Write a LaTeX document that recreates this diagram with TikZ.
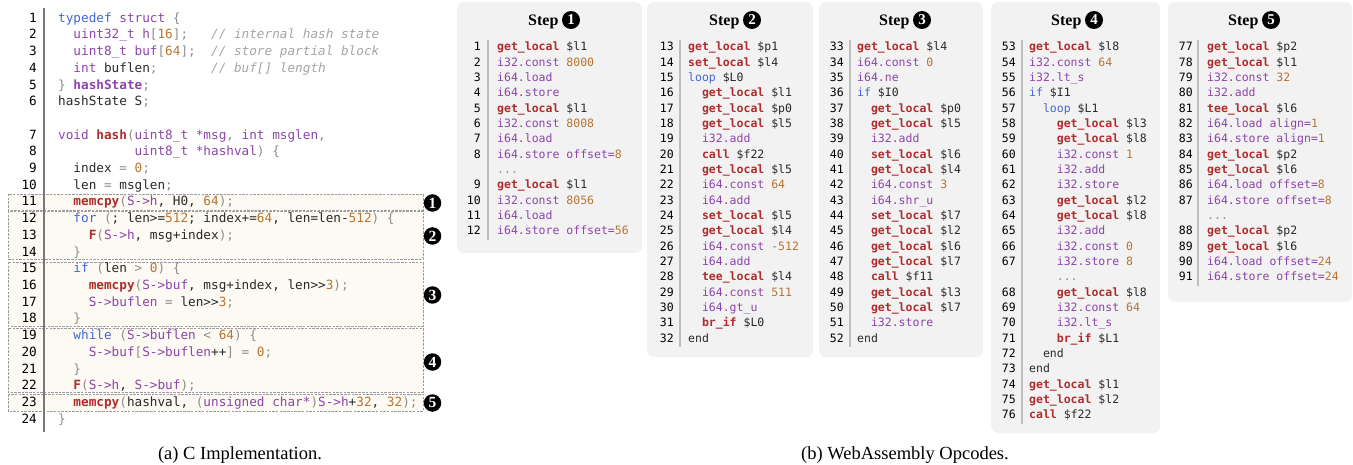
\documentclass[tikz,border=0pt]{standalone}
\usepackage{fontspec}
\setmainfont{Liberation Serif}
\newfontfamily\monofont{DejaVu Sans Mono}

% colours of the listings
\definecolor{cred}{RGB}{176,44,44}
\definecolor{cpur}{RGB}{140,68,170}
\definecolor{cblue}{RGB}{66,104,210}
\definecolor{cnum}{RGB}{184,116,50}
\definecolor{cgray}{RGB}{140,140,140}
\definecolor{ccom}{RGB}{165,165,165}
\definecolor{ctext}{RGB}{40,40,40}
\definecolor{cpanel}{RGB}{242,242,242}
\definecolor{cbox}{RGB}{252,250,243}
\definecolor{cboxline}{RGB}{155,155,155}
\definecolor{cbar}{RGB}{120,120,120}
\definecolor{cwbar}{RGB}{190,190,190}

% fonts
\newcommand\cfont{\monofont\fontsize{12.7}{14}\selectfont\frenchspacing}
\newcommand\wfont{\monofont\fontsize{11.5}{13}\selectfont\frenchspacing}

% syntax highlighting
\newcommand\kr[1]{\textcolor{cred}{\bfseries#1}}
\newcommand\kP[1]{\textcolor{cpur}{\bfseries#1}}
\newcommand\kp[1]{\textcolor{cpur}{#1}}
\newcommand\kb[1]{\textcolor{cblue}{#1}}
\newcommand\kn[1]{\textcolor{cnum}{#1}}
\newcommand\kg[1]{\textcolor{cgray}{#1}}
\newcommand\kc[1]{\textcolor{ccom}{\itshape#1}}
% skip a number of character cells
\newcommand\sk[1]{\hspace*{#1\fontcharwd\font`0}}

% C listing line: row, line number, code
\newcommand\Cl[3]{%
  \node[cnum] (cn#2) at (37,{18+#1*16.7+4.3}) {#2};
  \node[ctxt] (cl#2) at (58,{18+#1*16.7+4.3}) {#3};}
% wasm listing line: row, line number, code (columns in \nx, \cx)
\newcommand\Wl[3]{%
  \node[wnum] (wn#2) at (\nx,{47+#1*15.33+4}) {#2};
  \node[wtxt] (wl#2) at (\cx,{47+#1*15.33+4}) {#3};}
% elided lines: name, row, indent
\newcommand\Wd[3]{%
  \node[wtxt, text=cgray] (#1) at (\cx,{47+#2*15.33+4}) {\sk{#3}...};}

\begin{document}
\begin{tikzpicture}[x=1pt, y=-1pt,
  cnum/.style={anchor=base east, inner sep=0, font=\cfont, text=black},
  ctxt/.style={anchor=base west, inner sep=0, font=\cfont, text=ctext},
  wnum/.style={anchor=base east, inner sep=0, font=\wfont, text=black},
  wtxt/.style={anchor=base west, inner sep=0, font=\wfont, text=ctext},
  stepbox/.style={draw=cboxline, fill=cbox, line width=0.6pt, dash pattern=on 2.5pt off 1.2pt},
  panel/.style={fill=cpanel, rounded corners=7pt},
  wbar/.style={draw=cwbar, line width=1.3pt},
  steptitle/.style={anchor=base west, inner sep=0, font=\fontsize{16}{18}\selectfont\bfseries},
  stepnum/.style={circle, fill=black, text=white, inner sep=0, minimum size=18pt,
    font=\fontsize{15}{15}\selectfont\bfseries},
  marknum/.style={circle, fill=black, text=white, inner sep=0, minimum size=17.5pt,
    font=\fontsize{15.5}{15}\selectfont\bfseries},
  caption/.style={inner sep=0, font=\fontsize{18.5}{20}\selectfont}]
\useasboundingbox (0,0) rectangle (1353,465);

% ---------------- C implementation ----------------
\path[stepbox] (8,194) rectangle (423,210);
\path[stepbox] (8,211) rectangle (423,259);
\path[stepbox] (8,262) rectangle (423,326);
\path[stepbox] (8,328) rectangle (423,392);
\path[stepbox] (8,394) rectangle (423,411);
\draw[cbar, line width=2.5pt] (44,8) -- (44,432);

\Cl{0}{1}{\kb{typedef} \kp{struct} \kg{\{}}
\Cl{1}{2}{\sk{2}\kp{uint32\_t h}\kg{[}\kn{16}\kg{];}\sk{3}\kc{// internal hash state}}
\Cl{2}{3}{\sk{2}\kp{uint8\_t buf}\kg{[}\kn{64}\kg{];}\sk{2}\kc{// store partial block}}
\Cl{3}{4}{\sk{2}\kp{int} buflen\kg{;}\sk{7}\kc{// buf[] length}}
\Cl{4}{5}{\kg{\}} \kP{hashState}\kg{;}}
\Cl{5}{6}{hashState S\kg{;}}
\Cl{7}{7}{\kp{void} \kr{hash}\kg{(}\kp{uint8\_t *msg}\kg{,} \kp{int msglen}\kg{,}}
\Cl{8}{8}{\sk{10}\kp{uint8\_t *hashval}\kg{) \{}}
\Cl{9}{9}{\sk{2}index \kg{=} \kn{0}\kg{;}}
\Cl{10}{10}{\sk{2}len \kg{=} msglen\kg{;}}
\Cl{11}{11}{\sk{2}\kr{memcpy}\kg{(}\kp{S->h}, H0, \kn{64}\kg{);}}
\Cl{12}{12}{\sk{2}\kb{for} \kg{(}; len>=\kn{512}; index+=\kn{64}, len=len-\kn{512}\kg{) \{}}
\Cl{13}{13}{\sk{4}\kr{F}\kg{(}\kp{S->h}, msg+index\kg{);}}
\Cl{14}{14}{\sk{2}\kg{\}}}
\Cl{15}{15}{\sk{2}\kb{if} \kg{(}len \kg{>} \kn{0}\kg{) \{}}
\Cl{16}{16}{\sk{4}\kr{memcpy}\kg{(}\kp{S->buf}, msg+index, len>>\kn{3}\kg{);}}
\Cl{17}{17}{\sk{4}\kp{S->buflen} \kg{=} len>>\kn{3}\kg{;}}
\Cl{18}{18}{\sk{2}\kg{\}}}
\Cl{19}{19}{\sk{2}\kb{while} \kg{(}\kp{S->buflen} \kg{<} \kn{64}\kg{) \{}}
\Cl{20}{20}{\sk{4}\kp{S->buf}\kg{[}\kp{S->buflen}++\kg{]} \kg{=} \kn{0}\kg{;}}
\Cl{21}{21}{\sk{2}\kg{\}}}
\Cl{22}{22}{\sk{2}\kr{F}\kg{(}\kp{S->h}, \kp{S->buf}\kg{);}}
\Cl{23}{23}{\sk{2}\kr{memcpy}\kg{(}hashval, \kg{(}\kp{unsigned char*}\kg{)}\kp{S->h}+\kn{32}, \kn{32}\kg{);}}
\Cl{24}{24}{\kg{\}}}

\node[marknum] (m1) at (432.5,203) {1};
\node[marknum] (m2) at (432.5,236) {2};
\node[marknum] (m3) at (432.5,295) {3};
\node[marknum] (m4) at (432.5,362) {4};
\node[marknum] (m5) at (432.5,403) {5};

\node[caption] (capA) at (240,455) {(a) C Implementation.};

% ---------------- WebAssembly opcodes ----------------
\fill[panel] (457,2) rectangle (642,253);
\fill[panel] (647,2) rectangle (813,357);
\fill[panel] (819,2) rectangle (983,357);
\fill[panel] (991,2) rectangle (1160,433);
\fill[panel] (1168,2) rectangle (1352,302);

\node[steptitle] (t1) at (528,25.5) {Step};  \node[stepnum] (s1) at (571,20) {1};
\node[steptitle] (t2) at (709,25.5) {Step};  \node[stepnum] (s2) at (752,20) {2};
\node[steptitle] (t3) at (879,25.5) {Step};  \node[stepnum] (s3) at (922,20) {3};
\node[steptitle] (t4) at (1051,25.5) {Step}; \node[stepnum] (s4) at (1094,20) {4};
\node[steptitle] (t5) at (1228,25.5) {Step}; \node[stepnum] (s5) at (1271,20) {5};

% step 1
\draw[wbar] (488,40) -- (488,240);
\def\nx{481}\def\cx{497}
\Wl{0}{1}{\kr{get\_local} \$l1}
\Wl{1}{2}{\kp{i32.const} \kn{8000}}
\Wl{2}{3}{\kp{i64.load}}
\Wl{3}{4}{\kp{i64.store}}
\Wl{4}{5}{\kr{get\_local} \$l1}
\Wl{5}{6}{\kp{i32.const} \kn{8008}}
\Wl{6}{7}{\kp{i64.load}}
\Wl{7}{8}{\kp{i64.store offset=}\kn{8}}
\Wd{wd1}{8}{0}
\Wl{9}{9}{\kr{get\_local} \$l1}
\Wl{10}{10}{\kp{i32.const} \kn{8056}}
\Wl{11}{11}{\kp{i64.load}}
\Wl{12}{12}{\kp{i64.store offset=}\kn{56}}

% step 2
\draw[wbar] (680,40) -- (680,347);
\def\nx{674}\def\cx{688}
\Wl{0}{13}{\kr{get\_local} \$p1}
\Wl{1}{14}{\kr{set\_local} \$l4}
\Wl{2}{15}{\kb{loop} \$L0}
\Wl{3}{16}{\sk{2}\kr{get\_local} \$l1}
\Wl{4}{17}{\sk{2}\kr{get\_local} \$p0}
\Wl{5}{18}{\sk{2}\kr{get\_local} \$l5}
\Wl{6}{19}{\sk{2}\kp{i32.add}}
\Wl{7}{20}{\sk{2}\kr{call} \$f22}
\Wl{8}{21}{\sk{2}\kr{get\_local} \$l5}
\Wl{9}{22}{\sk{2}\kp{i64.const} \kn{64}}
\Wl{10}{23}{\sk{2}\kp{i64.add}}
\Wl{11}{24}{\sk{2}\kr{set\_local} \$l5}
\Wl{12}{25}{\sk{2}\kr{get\_local} \$l4}
\Wl{13}{26}{\sk{2}\kp{i64.const} \kn{-512}}
\Wl{14}{27}{\sk{2}\kp{i64.add}}
\Wl{15}{28}{\sk{2}\kr{tee\_local} \$l4}
\Wl{16}{29}{\sk{2}\kp{i64.const} \kn{511}}
\Wl{17}{30}{\sk{2}\kp{i64.gt\_u}}
\Wl{18}{31}{\sk{2}\kr{br\_if} \$L0}
\Wl{19}{32}{end}

% step 3
\draw[wbar] (850,40) -- (850,347);
\def\nx{844}\def\cx{857}
\Wl{0}{33}{\kr{get\_local} \$l4}
\Wl{1}{34}{\kp{i64.const} \kn{0}}
\Wl{2}{35}{\kp{i64.ne}}
\Wl{3}{36}{\kb{if} \$I0}
\Wl{4}{37}{\sk{2}\kr{get\_local} \$p0}
\Wl{5}{38}{\sk{2}\kr{get\_local} \$l5}
\Wl{6}{39}{\sk{2}\kp{i32.add}}
\Wl{7}{40}{\sk{2}\kr{set\_local} \$l6}
\Wl{8}{41}{\sk{2}\kr{get\_local} \$l4}
\Wl{9}{42}{\sk{2}\kp{i64.const} \kn{3}}
\Wl{10}{43}{\sk{2}\kp{i64.shr\_u}}
\Wl{11}{44}{\sk{2}\kr{set\_local} \$l7}
\Wl{12}{45}{\sk{2}\kr{get\_local} \$l2}
\Wl{13}{46}{\sk{2}\kr{get\_local} \$l6}
\Wl{14}{47}{\sk{2}\kr{get\_local} \$l7}
\Wl{15}{48}{\sk{2}\kr{call} \$f11}
\Wl{16}{49}{\sk{2}\kr{get\_local} \$l3}
\Wl{17}{50}{\sk{2}\kr{get\_local} \$l7}
\Wl{18}{51}{\sk{2}\kp{i32.store}}
\Wl{19}{52}{end}

% step 4
\draw[wbar] (1022,40) -- (1022,424);
\def\nx{1016}\def\cx{1029}
\Wl{0}{53}{\kr{get\_local} \$l8}
\Wl{1}{54}{\kp{i32.const} \kn{64}}
\Wl{2}{55}{\kp{i32.lt\_s}}
\Wl{3}{56}{\kb{if} \$I1}
\Wl{4}{57}{\sk{2}\kb{loop} \$L1}
\Wl{5}{58}{\sk{4}\kr{get\_local} \$l3}
\Wl{6}{59}{\sk{4}\kr{get\_local} \$l8}
\Wl{7}{60}{\sk{4}\kp{i32.const} \kn{1}}
\Wl{8}{61}{\sk{4}\kp{i32.add}}
\Wl{9}{62}{\sk{4}\kp{i32.store}}
\Wl{10}{63}{\sk{4}\kr{get\_local} \$l2}
\Wl{11}{64}{\sk{4}\kr{get\_local} \$l8}
\Wl{12}{65}{\sk{4}\kp{i32.add}}
\Wl{13}{66}{\sk{4}\kp{i32.const} \kn{0}}
\Wl{14}{67}{\sk{4}\kp{i32.store} \kn{8}}
\Wd{wd2}{15}{4}
\Wl{16}{68}{\sk{4}\kr{get\_local} \$l8}
\Wl{17}{69}{\sk{4}\kp{i32.const} \kn{64}}
\Wl{18}{70}{\sk{4}\kp{i32.lt\_s}}
\Wl{19}{71}{\sk{4}\kr{br\_if} \$L1}
\Wl{20}{72}{\sk{2}end}
\Wl{21}{73}{end}
\Wl{22}{74}{\kr{get\_local} \$l1}
\Wl{23}{75}{\kr{get\_local} \$l2}
\Wl{24}{76}{\kr{call} \$f22}

% step 5
\draw[wbar] (1198,40) -- (1198,286);
\def\nx{1193}\def\cx{1207}
\Wl{0}{77}{\kr{get\_local} \$p2}
\Wl{1}{78}{\kr{get\_local} \$l1}
\Wl{2}{79}{\kp{i32.const} \kn{32}}
\Wl{3}{80}{\kp{i32.add}}
\Wl{4}{81}{\kr{tee\_local} \$l6}
\Wl{5}{82}{\kp{i64.load align=}\kn{1}}
\Wl{6}{83}{\kp{i64.store align=}\kn{1}}
\Wl{7}{84}{\kr{get\_local} \$p2}
\Wl{8}{85}{\kr{get\_local} \$l6}
\Wl{9}{86}{\kp{i64.load offset=}\kn{8}}
\Wl{10}{87}{\kp{i64.store offset=}\kn{8}}
\Wd{wd3}{11}{0}
\Wl{12}{88}{\kr{get\_local} \$p2}
\Wl{13}{89}{\kr{get\_local} \$l6}
\Wl{14}{90}{\kp{i64.load offset=}\kn{24}}
\Wl{15}{91}{\kp{i64.store offset=}\kn{24}}

\node[caption] (capB) at (905,455) {(b) WebAssembly Opcodes.};
\end{tikzpicture}
\end{document}
